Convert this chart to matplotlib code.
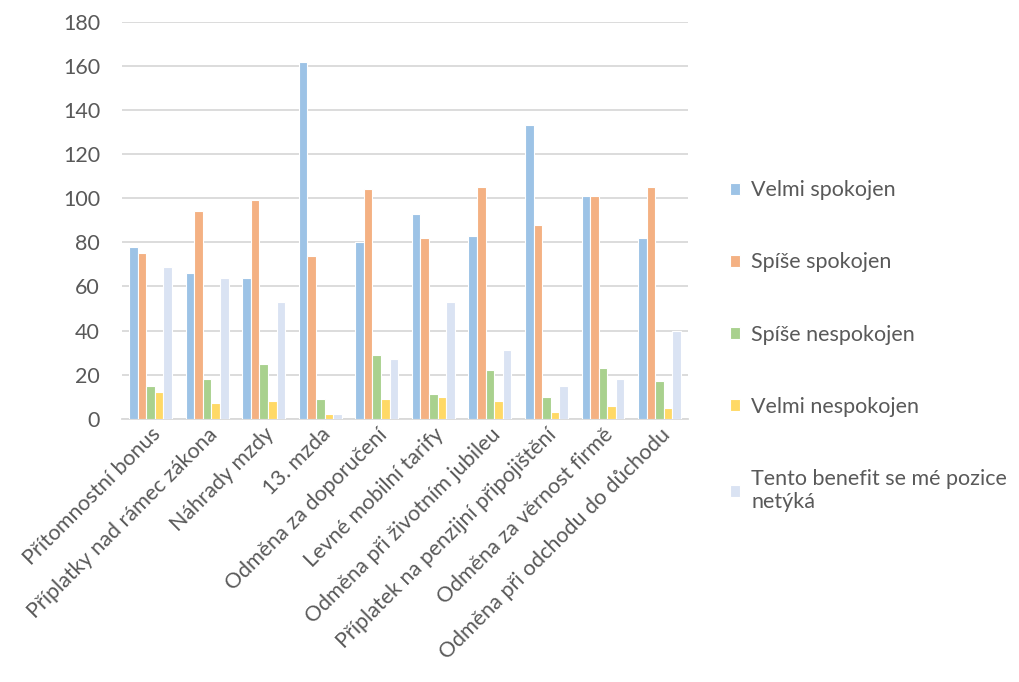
import matplotlib
matplotlib.use("Agg")
import matplotlib.pyplot as plt
import numpy as np

categories = ["Přítomnostní bonus", "Příplatky nad rámec zákona", "Náhrady mzdy",
              "13. mzda", "Odměna za doporučení", "Levné mobilní tarify",
              "Odměna při životním jubileu", "Příplatek na penzijní připojištění",
              "Odměna za věrnost firmě", "Odměna při odchodu do důchodu"]
series_names = ["Velmi spokojen", "Spíše spokojen", "Spíše nespokojen",
                "Velmi nespokojen", "Tento benefit se mé pozice\nnetýká"]
velmi_spokojen = [78, 66, 64, 162, 80, 93, 83, 133, 101, 82]
spise_spokojen = [75, 94, 99, 74, 104, 82, 105, 88, 101, 105]
spise_nespokojen = [15, 18, 25, 9, 29, 11, 22, 10, 23, 17]
velmi_nespokojen = [12, 7, 8, 2, 9, 10, 8, 3, 6, 5]
netyka = [69, 64, 53, 2, 27, 53, 31, 15, 18, 40]
colors = ["#9DC3E6", "#F4B183", "#A9D18E", "#FFD966", "#DAE3F3"]

plt.rcParams['font.family'] = ['Lato', 'DejaVu Sans']
text_color = "#595959"
fsize = 15.5

fig = plt.figure(figsize=(10.19, 6.82), dpi=100)
ax = fig.add_axes([0.12, 0.386, 0.555, 0.582])

x = np.arange(len(categories))
width = 0.152
all_series = [velmi_spokojen, spise_spokojen, spise_nespokojen, velmi_nespokojen, netyka]
for i, (vals, name, c) in enumerate(zip(all_series, series_names, colors)):
    ax.bar(x + (i - 2) * width, vals, width, color=c, edgecolor="white",
           linewidth=0.8, label=name, zorder=3)

ax.set_xlim(-0.5, len(categories) - 0.5)
ax.set_ylim(0, 180)
ax.set_yticks(range(0, 181, 20))
ax.yaxis.grid(True, color="#D9D9D9", linewidth=1.3, zorder=0)
for s in ["top", "right", "left"]:
    ax.spines[s].set_visible(False)
ax.spines["bottom"].set_color("#D9D9D9")
ax.spines["bottom"].set_linewidth(1.3)
ax.tick_params(axis="both", length=0, colors=text_color, labelsize=fsize)
ax.tick_params(axis="y", pad=16)
ax.tick_params(axis="x", pad=4)
ax.set_xticks(x)
ax.set_xticklabels(categories, rotation=45, ha="right", rotation_mode="anchor")

leg = fig.legend(loc="upper left", bbox_to_anchor=(0.697, 0.764), frameon=False,
                 fontsize=fsize, labelspacing=2.42, handlelength=0.5, handleheight=0.5,
                 handletextpad=0.5, labelcolor=text_color)

fig.savefig("out.png", dpi=100)
